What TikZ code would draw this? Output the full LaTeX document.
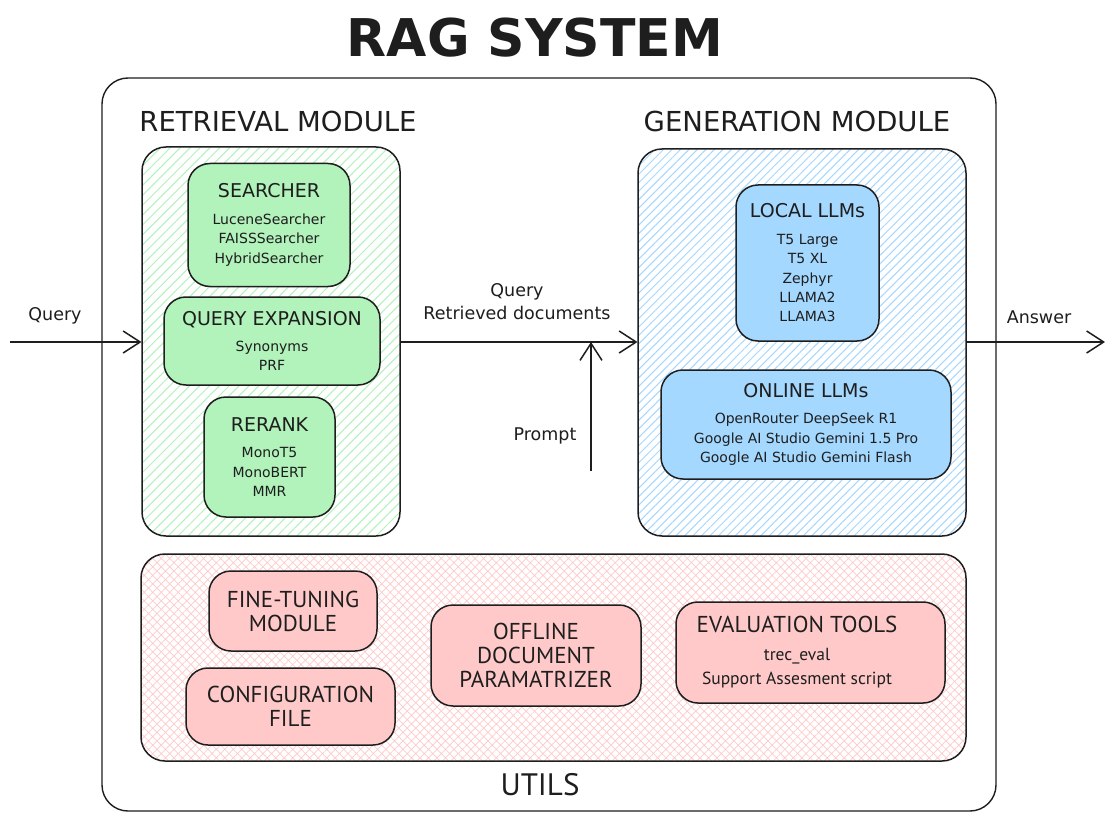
\documentclass[tikz,border=0pt]{standalone}
\usepackage{fontspec}
\setmainfont{DejaVu Sans}
\newfontfamily\narrowfont{PT Sans}
\usetikzlibrary{arrows.meta,patterns.meta}

\definecolor{ink}{HTML}{1E1E1E}
\definecolor{greenfill}{HTML}{B2F2BB}
\definecolor{bluefill}{HTML}{A5D8FF}
\definecolor{pinkfill}{HTML}{FFC9C9}

\newcommand\titlefont{\fontsize{52}{58}\selectfont\bfseries}
\newcommand\modfont{\fontsize{27.5}{30}\selectfont}
\newcommand\labfont{\fontsize{17.5}{23}\selectfont}

\tikzset{
  panel/.style={draw=ink, line width=1.5pt, rounded corners=24pt, inner sep=0pt},
  greenpanel/.style={panel, pattern={Lines[angle=45,distance=7pt,line width=1pt]}, pattern color=greenfill},
  bluepanel/.style={panel, pattern={Lines[angle=45,distance=6pt,line width=1pt]}, pattern color=bluefill},
  pinkpanel/.style={panel, pattern={Hatch[angle=45,distance=6pt,line width=0.7pt]}, pattern color=pinkfill},
  compbox/.style={draw=ink, line width=1.5pt, rounded corners=22pt, align=center, text=ink, inner sep=0pt,
    font=\fontsize{14}{19.4}\selectfont},
  greenbox/.style={compbox, fill=greenfill},
  bluebox/.style={compbox, fill=bluefill},
  pinkbox/.style={compbox, fill=pinkfill, font=\narrowfont\fontsize{23}{24}\selectfont},
  pinktext/.style={text=ink, align=center, inner sep=0pt, font=\narrowfont\fontsize{23}{24}\selectfont},
  lab/.style={text=ink, align=center, font=\labfont, inner sep=0pt},
  arr/.style={draw=ink, line width=1.5pt, -{Straight Barb[length=17pt,width=22pt,line width=1.5pt]}},
}
\newcommand\bhead{\fontsize{19}{19.4}\selectfont}
\newcommand\evalbody{\fontsize{17.5}{19.5}\selectfont}

\begin{document}
\begin{tikzpicture}[x=1pt,y=-1pt]
\useasboundingbox (0,0) rectangle (1105,813);
\fill[white] (0,0) rectangle (1105,813);

% title and outer frame
\node[text=ink, font=\titlefont, inner sep=0pt] (title) at (535,38) {RAG SYSTEM};
\draw[ink, line width=1.4pt, rounded corners=26pt] (102,78) rectangle (996,811);

% module headings
\node[text=ink, font=\modfont, inner sep=0pt] (rethead) at (278,121) {RETRIEVAL MODULE};
\node[text=ink, font=\modfont, inner sep=0pt] (genhead) at (797,121) {GENERATION MODULE};

% retrieval module
\node[greenpanel, minimum width=258pt, minimum height=389pt] (ret) at (271,341.5) {};
\node[greenbox, minimum width=162pt, minimum height=123pt] (searcher) at (269,225)
  {{\bhead SEARCHER}\\[7pt]LuceneSearcher\\FAISSSearcher\\HybridSearcher};
\node[greenbox, minimum width=216pt, minimum height=88pt] (qexp) at (272,341)
  {{\bhead QUERY EXPANSION}\\[7pt]Synonyms\\PRF};
\node[greenbox, minimum width=131pt, minimum height=120pt] (rerank) at (269.5,457)
  {{\bhead RERANK}\\[7pt]MonoT5\\MonoBERT\\MMR};

% generation module
\node[bluepanel, minimum width=328pt, minimum height=387pt] (gen) at (802,342.5) {};
\node[bluebox, minimum width=143pt, minimum height=156pt] (local) at (807.5,263)
  {{\bhead LOCAL LLMs}\\[7pt]T5 Large\\T5 XL\\Zephyr\\LLAMA2\\LLAMA3};
\node[bluebox, minimum width=290pt, minimum height=109pt] (online) at (806,424.5)
  {{\bhead ONLINE LLMs}\\[7pt]OpenRouter DeepSeek R1\\Google AI Studio Gemini 1.5 Pro\\Google AI Studio Gemini Flash};

% utilities
\node[pinkpanel, minimum width=825pt, minimum height=207pt] (utils) at (553.5,657.5) {};
\node[pinkbox, minimum width=168pt, minimum height=80pt] (finetune) at (293,611) {FINE-TUNING\\MODULE};
\node[pinkbox, minimum width=209pt, minimum height=77pt] (config) at (290.5,706.5) {CONFIGURATION\\FILE};
\node[pinkbox, minimum width=210pt, minimum height=101pt] (offline) at (536,655.5) {OFFLINE\\DOCUMENT\\PARAMATRIZER};
\node[pinkbox, minimum width=269pt, minimum height=101pt] (evaltools) at (810.5,652.5) {};
\node[pinktext] (evaltext) at (797,652.5)
  {EVALUATION TOOLS\\[4pt]{\evalbody trec\_eval}\\{\evalbody Support Assesment script}};
\node[text=ink, font=\narrowfont\fontsize{31}{34}\selectfont, inner sep=0pt] (utilshead) at (540,785) {UTILS};

% data flow
\coordinate (qin) at (10,342);
\coordinate (aout) at (1105,342);
\coordinate (pin) at (591,471);
\draw[arr] (qin) -- (ret.west |- qin);
\draw[arr] (ret.east |- qin) -- (gen.west |- qin);
\draw[arr] (gen.east |- qin) -- (aout);
\draw[arr] (pin) -- (pin |- qin);

\node[lab] (lquery) at (55,316) {Query};
\node[lab] (lretr) at (517,302) {Query\\Retrieved documents};
\node[lab] (lprompt) at (545,436) {Prompt};
\node[lab] (lanswer) at (1039,317) {Answer};
\end{tikzpicture}
\end{document}
